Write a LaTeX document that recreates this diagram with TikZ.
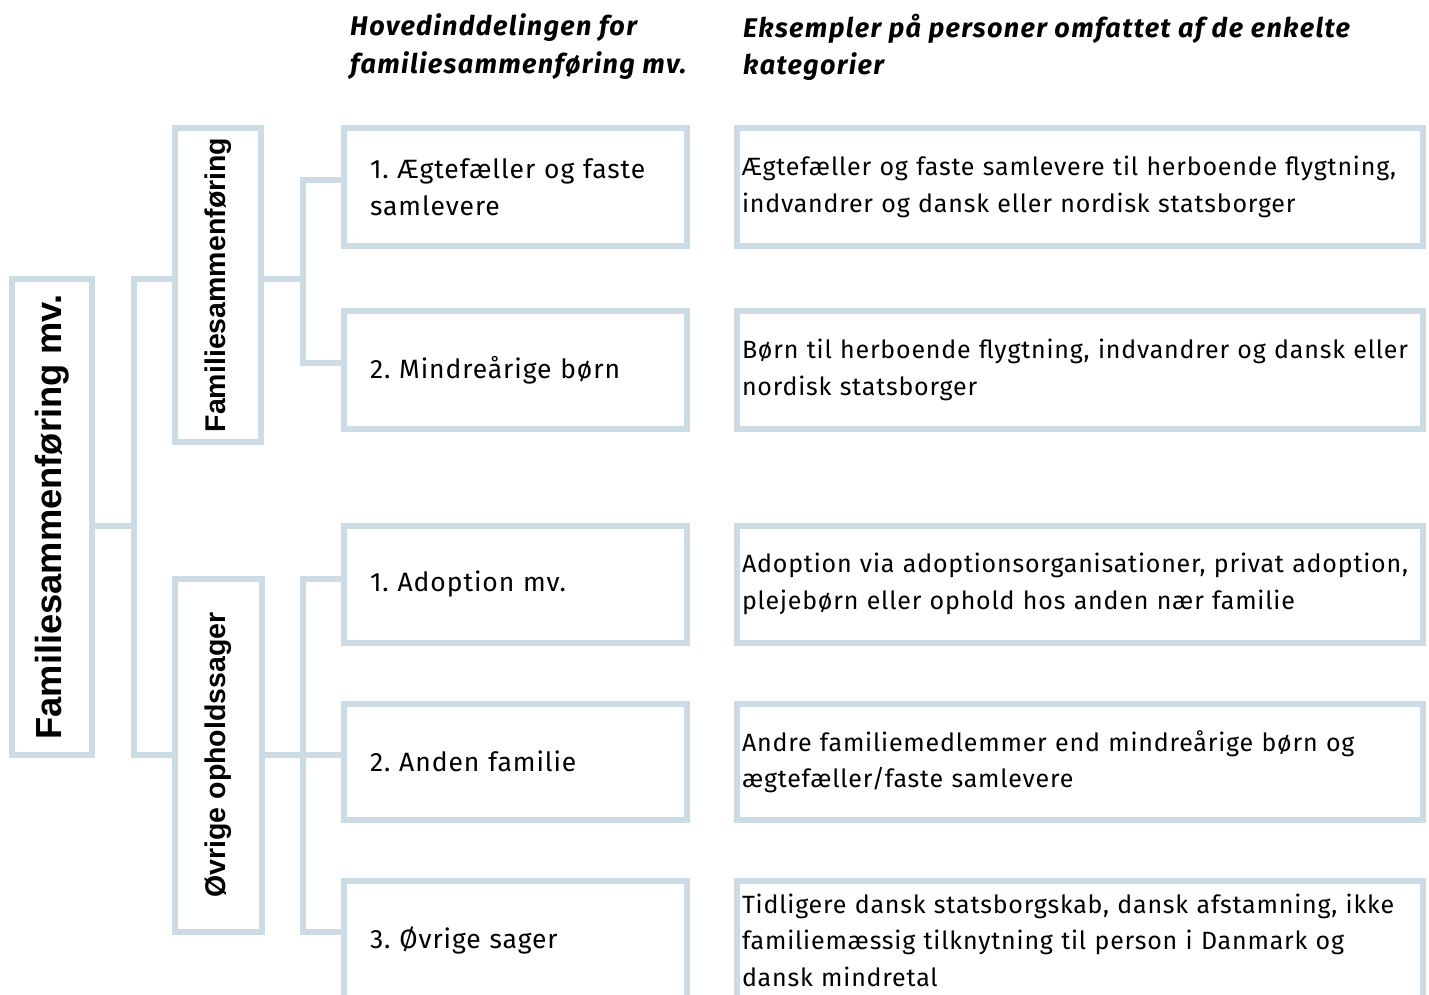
\documentclass[tikz,border=0pt]{standalone}
\usepackage{fontspec}
\setmainfont[LetterSpace=3.2]{Fira Sans}
\newfontfamily\midfont[LetterSpace=3.5]{Fira Sans}
\newfontfamily\headfont[LetterSpace=5]{Fira Sans}
\newfontfamily\rotfont{Liberation Sans}
\definecolor{boxline}{RGB}{205,220,228}
\frenchspacing
\begin{document}
\begin{tikzpicture}[x=1pt,y=-1pt,
  frame/.style={draw=boxline, line width=6pt, rectangle, inner sep=0pt, outer sep=0pt},
  midbox/.style={frame, minimum width=343pt, text width=291pt, align=left,
    font=\midfont\fontsize{26.5}{37}\selectfont},
  exbox/.style={frame, minimum width=685.5pt, text width=675.5pt, align=left,
    font=\fontsize{25}{36.5}\selectfont},
  head/.style={anchor=north west, inner sep=0pt, align=left,
    font=\headfont\fontsize{27}{37.5}\selectfont\bfseries\itshape},
  link/.style={draw=boxline, line width=6pt}]
\useasboundingbox (0,0) rectangle (1429,994);
\clip (0,0) rectangle (1429,994);

% headers
\node[head] (h1) at (350,13.5) {Hovedinddelingen for\\familiesammenføring mv.};
\node[head] (h2) at (743,13.5) {Eksempler på personer omfattet af de enkelte\\kategorier};

% left boxes
\node[frame, minimum width=80pt, minimum height=476pt] (main) at (52,517)
  {\rotatebox{90}{\rotfont\bfseries\fontsize{36.3}{36.3}\selectfont Familiesammenføring mv.}};
\node[frame, minimum width=86.5pt, minimum height=314pt] (catA) at (217.75,285)
  {\rotatebox{90}{\rotfont\bfseries\fontsize{28.5}{28.5}\selectfont Familiesammenføring}};
\node[frame, minimum width=87pt, minimum height=353pt] (catB) at (218,755)
  {\rotatebox{90}{\rotfont\bfseries\fontsize{28.5}{28.5}\selectfont Øvrige opholdssager}};

% middle boxes
\node[midbox, minimum height=118pt] (b1) at (515.5,187) {1. Ægtefæller og faste\\samlevere};
\node[midbox, minimum height=118pt] (b2) at (515.5,370) {2. Mindreårige børn};
\node[midbox, minimum height=117pt] (b3) at (515.5,584) {1. Adoption mv.};
\node[midbox, minimum height=115.5pt] (b4) at (515.5,761.75) {2. Anden familie};
\node[midbox, minimum height=119.5pt] (b5) at (515.5,940.25) {3. Øvrige sager};

% example boxes
\node[exbox, minimum height=118pt] (e1) at (1079.75,187)
  {Ægtefæller og faste samlevere til herboende flygtning,\\indvandrer og dansk eller nordisk statsborger};
\node[exbox, minimum height=118pt] (e2) at (1079.75,370)
  {Børn til herboende flygtning, indvandrer og dansk eller\\nordisk statsborger};
\node[exbox, minimum height=117pt] (e3) at (1079.75,584)
  {Adoption via adoptionsorganisationer, privat adoption,\\plejebørn eller ophold hos anden nær familie};
\node[exbox, minimum height=115.5pt] (e4) at (1079.75,761.75)
  {Andre familiemedlemmer end mindreårige børn og\\ægtefæller/faste samlevere};
\node[exbox, minimum height=119.5pt] (e5) at (1079.75,940.25)
  {Tidligere dansk statsborgskab, dansk afstamning, ikke\\familiemæssig tilknytning til person i Danmark og\\dansk mindretal};

% connectors
\coordinate (j0) at (133.5,525.5);
\coordinate (t1) at (133.5,279);
\coordinate (t2) at (133.5,755);
\draw[link] (main.east |- j0) -- (j0);
\draw[link] (catA.west |- t1) -- (t1) -- (t2) -- (catB.west |- t2);

\coordinate (a0) at (303,279);
\coordinate (a1) at (303,180);
\coordinate (a2) at (303,363);
\draw[link] (catA.east |- a0) -- (a0);
\draw[link] (b1.west |- a1) -- (a1) -- (a2) -- (b2.west |- a2);

\coordinate (c0) at (303,755);
\coordinate (c1) at (303,578.5);
\coordinate (c2) at (303,931.5);
\draw[link] (catB.east |- c0) -- (b4.west |- c0);
\draw[link] (b3.west |- c1) -- (c1) -- (c2) -- (b5.west |- c2);
\end{tikzpicture}
\end{document}
